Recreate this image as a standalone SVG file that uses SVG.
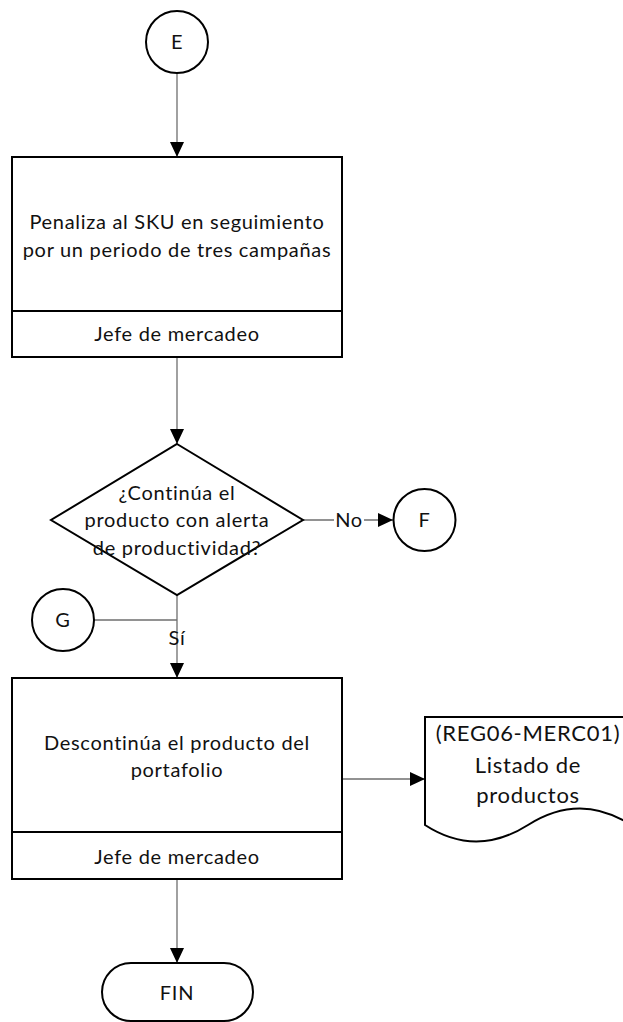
<svg xmlns="http://www.w3.org/2000/svg" width="623" height="1022" viewBox="0 0 623 1022">
<style>
.shape{fill:#fff;stroke:#000;stroke-width:2}
.conn{fill:none;stroke:#6e6e6e;stroke-width:1.3}
.t{font-family:Lato,"Open Sans","Liberation Sans",sans-serif;font-size:20px;letter-spacing:0.7px;fill:#111;text-anchor:middle}
.d{font-size:22px}
</style>
<defs>
<marker id="arr" markerUnits="userSpaceOnUse" markerWidth="16" markerHeight="14" refX="15" refY="7" orient="auto">
<path d="M0,0 L15,7 L0,14 Z" fill="#000"/>
</marker>
</defs>
<g id="connectors">
<line class="conn" x1="177" y1="73" x2="177" y2="157" marker-end="url(#arr)"/>
<line class="conn" x1="177" y1="357" x2="177" y2="444" marker-end="url(#arr)"/>
<line class="conn" x1="303" y1="520" x2="393" y2="520" marker-end="url(#arr)"/>
<rect x="334" y="508" width="30" height="24" fill="#fff"/>
<text class="t" x="349" y="527">No</text>
<line class="conn" x1="177" y1="595" x2="177" y2="678" marker-end="url(#arr)"/>
<line class="conn" x1="94" y1="620" x2="177" y2="620"/>
<text class="t" x="177" y="645">Sí</text>
<line class="conn" x1="342" y1="779" x2="425" y2="779" marker-end="url(#arr)"/>
<line class="conn" x1="177" y1="879" x2="177" y2="963" marker-end="url(#arr)"/>
</g>
<g id="node-E">
<circle class="shape" cx="177" cy="42" r="31"/>
<text class="t" x="177" y="49">E</text>
</g>
<g id="node-penaliza">
<rect class="shape" x="12" y="157" width="330" height="200"/>
<line class="shape" x1="12" y1="311" x2="342" y2="311"/>
<text class="t" x="177" y="229">Penaliza al SKU en seguimiento</text>
<text class="t" x="177" y="257">por un periodo de tres campañas</text>
<text class="t" x="177" y="341">Jefe de mercadeo</text>
</g>
<g id="node-decision">
<polygon class="shape" points="177,444 303,520 177,595 51,520"/>
<text class="t" x="177" y="500">¿Continúa el</text>
<text class="t" x="177" y="527">producto con alerta</text>
<text class="t" x="177" y="555">de productividad?</text>
</g>
<g id="node-F">
<circle class="shape" cx="424.5" cy="520" r="31"/>
<text class="t" x="424.5" y="527">F</text>
</g>
<g id="node-G">
<circle class="shape" cx="63" cy="620" r="31"/>
<text class="t" x="63" y="627">G</text>
</g>
<g id="node-descontinua">
<rect class="shape" x="12" y="678" width="330" height="201"/>
<line class="shape" x1="12" y1="832" x2="342" y2="832"/>
<text class="t" x="177" y="750">Descontinúa el producto del</text>
<text class="t" x="177" y="777">portafolio</text>
<text class="t" x="177" y="864">Jefe de mercadeo</text>
</g>
<g id="node-listado">
<path class="shape" d="M425,825 V717 H631 V825 Q580,792 528,825 Q476,858 425,825 Z"/>
<text class="t d" x="528" y="741">(REG06-MERC01)</text>
<text class="t d" x="528" y="773">Listado de</text>
<text class="t d" x="528" y="803">productos</text>
</g>
<g id="node-FIN">
<rect class="shape" x="102" y="963" width="151" height="58" rx="29" ry="29"/>
<text class="t" x="177" y="1000">FIN</text>
</g>
</svg>
